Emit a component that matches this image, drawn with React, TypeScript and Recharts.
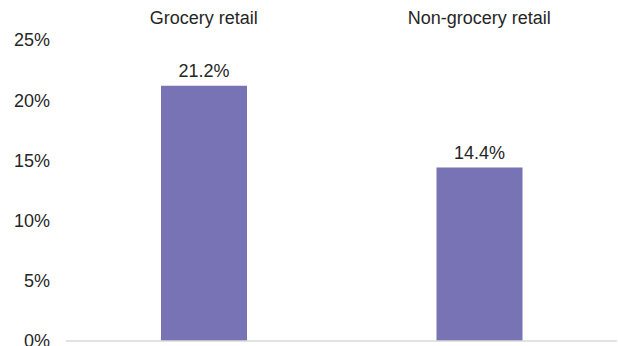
import React from "react";
import { BarChart, Bar, XAxis, YAxis, LabelList, ReferenceLine } from "recharts";

const categories = ["Grocery retail", "Non-grocery retail"];
const values = [21.2, 14.4];
const yTicks = [0, 5, 10, 15, 20, 25];

const data = categories.map((name, i) => ({ name, value: values[i] }));

const FONT = "'Liberation Sans', Arial, sans-serif";
const TEXT = "#262626";

export default function App() {
  return (
    <div style={{ position: "absolute", left: 0, top: 0, background: "#fff" }}>
      <BarChart
        width={618}
        height={346}
        data={data}
        margin={{ top: 0, right: 1, bottom: 5, left: 0 }}
        barSize={86}
      >
        <XAxis
          dataKey="name"
          orientation="top"
          axisLine={false}
          tickLine={false}
          tickSize={0}
          tickMargin={16}
          height={40}
          interval={0}
          tick={{ fill: TEXT, fontSize: 18, fontFamily: FONT }}
        />
        <YAxis
          domain={[0, 25]}
          ticks={yTicks}
          interval={0}
          axisLine={false}
          tickLine={false}
          tickSize={0}
          tickMargin={16}
          width={66}
          tickFormatter={(v: number) => `${v}%`}
          tick={{ fill: TEXT, fontSize: 18, fontFamily: FONT }}
        />
        <ReferenceLine y={0} stroke="#d9d9d9" strokeWidth={1.5} />
        <Bar dataKey="value" fill="#7773B4" isAnimationActive={false}>
          <LabelList
            dataKey="value"
            position="top"
            offset={9}
            formatter={(v: number) => `${v.toFixed(1)}%`}
            style={{ fill: TEXT, fontSize: 18, fontFamily: FONT }}
          />
        </Bar>
      </BarChart>
    </div>
  );
}
